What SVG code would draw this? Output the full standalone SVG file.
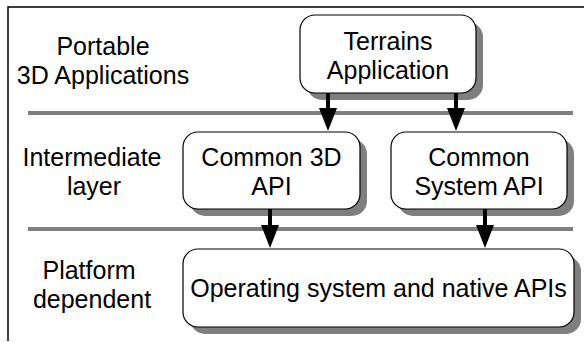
<svg xmlns="http://www.w3.org/2000/svg" width="584" height="343" viewBox="0 0 584 343">
<defs>
<style>
text{font-family:"Liberation Sans",Arial,sans-serif;font-size:25px;fill:#000;text-anchor:middle}
.box{fill:#fff;stroke:#000;stroke-width:1.2}
.shadow{fill:#7f7f7f}
.sep{stroke:#808080;stroke-width:4}
.frame{stroke:#000;stroke-width:1.5;fill:none}
.shaft{stroke:#000;stroke-width:4}
.head{fill:#000}
</style>
</defs>
<path class="frame" d="M584 7H8V341"/>
<line class="sep" x1="28" y1="113" x2="573" y2="113"/>
<line class="sep" x1="28" y1="229" x2="573" y2="229"/>
<g id="label-portable">
<text x="103" y="55">Portable</text>
<text x="103" y="84">3D Applications</text>
</g>
<g id="label-intermediate">
<text x="92" y="166">Intermediate</text>
<text x="94" y="195">layer</text>
</g>
<g id="label-platform">
<text x="89" y="279">Platform</text>
<text x="92" y="308">dependent</text>
</g>
<g id="terrains">
<rect class="shadow" x="307" y="22" width="176" height="78" rx="15"/>
<rect class="box" x="300" y="15" width="176" height="78" rx="15"/>
<text x="388" y="50">Terrains</text>
<text x="388" y="79">Application</text>
</g>
<g id="common3d">
<rect class="shadow" x="190" y="139" width="177" height="77" rx="15"/>
<rect class="box" x="183" y="132" width="177" height="77" rx="15"/>
<text x="271.5" y="166">Common 3D</text>
<text x="271.5" y="195">API</text>
</g>
<g id="commonsys">
<rect class="shadow" x="398" y="139" width="176" height="77" rx="15"/>
<rect class="box" x="391" y="132" width="176" height="77" rx="15"/>
<text x="479" y="166">Common</text>
<text x="479" y="195">System API</text>
</g>
<g id="os">
<rect class="shadow" x="190" y="256" width="391" height="78" rx="15"/>
<rect class="box" x="183" y="249" width="391" height="78" rx="15"/>
<text x="378.5" y="297">Operating system and native APIs</text>
</g>
<g id="connectors">
<line class="shaft" x1="328" y1="93" x2="328" y2="112"/>
<path class="head" d="M319 108H337L328 131Z"/>
<line class="shaft" x1="456" y1="93" x2="456" y2="112"/>
<path class="head" d="M447 108H465L456 131Z"/>
<line class="shaft" x1="270" y1="209" x2="270" y2="228"/>
<path class="head" d="M261 225H279L270 248Z"/>
<line class="shaft" x1="485" y1="209" x2="485" y2="228"/>
<path class="head" d="M476 225H494L485 248Z"/>
</g>
</svg>
